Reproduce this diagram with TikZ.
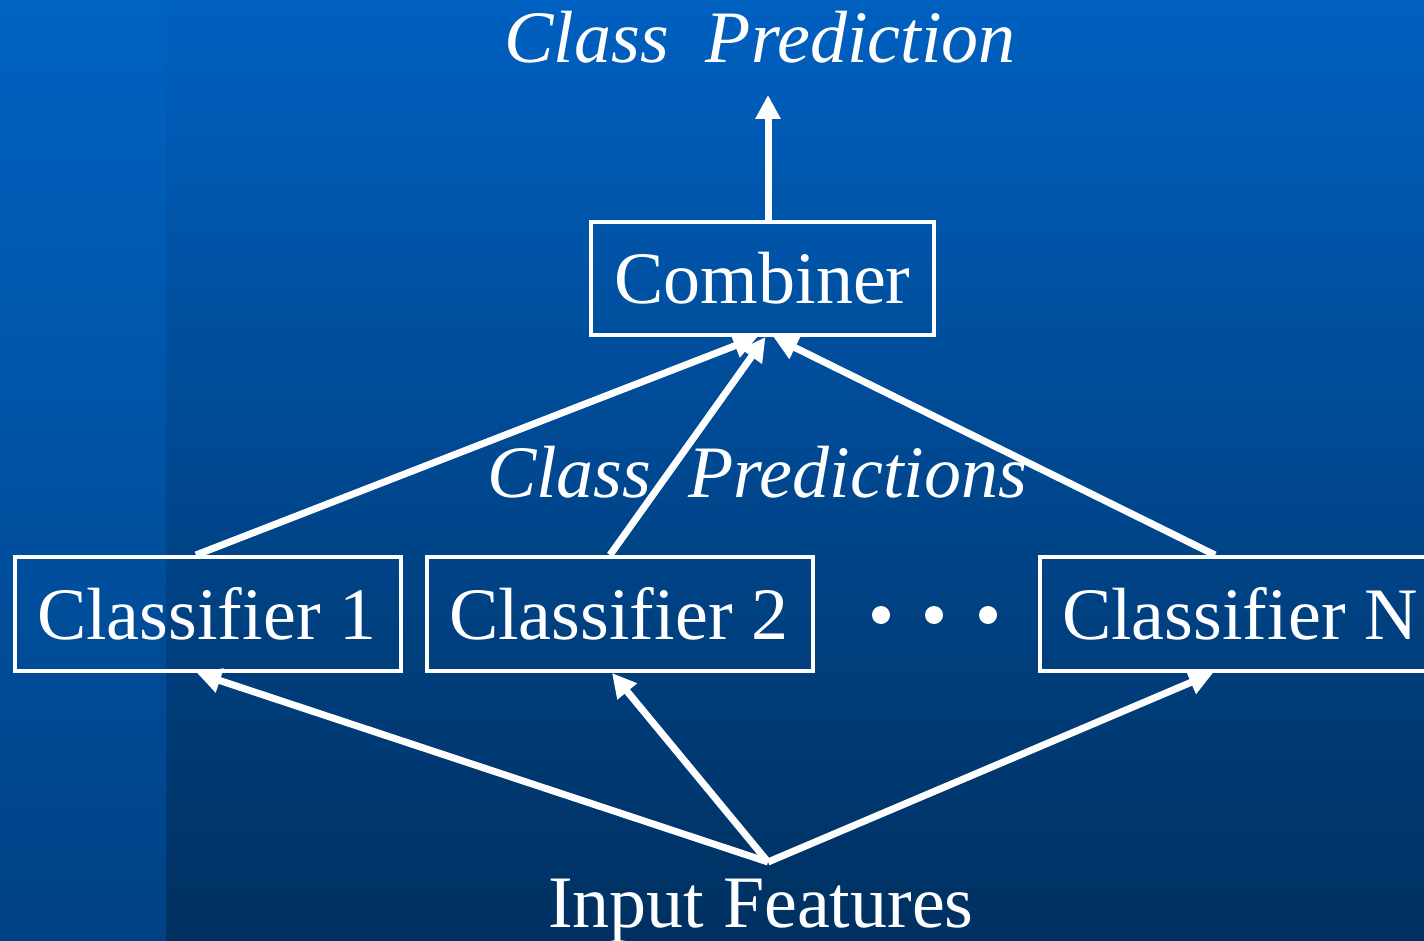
\documentclass[tikz,border=0pt]{standalone}
\usepackage{fontspec}
\setmainfont{Liberation Serif}
\usetikzlibrary{arrows.meta}
\definecolor{bgtop}{RGB}{0,96,192}
\definecolor{bgbot}{RGB}{0,48,96}
\definecolor{striptop}{RGB}{0,98,194}
\definecolor{stripbot}{RGB}{0,66,132}
\tikzset{
  box/.style={draw=white, line width=4pt, minimum width=386pt, minimum height=114pt,
    inner sep=0pt, text=white, font=\fontsize{74}{88}\selectfont},
  lbl/.style={text=white, inner sep=0pt, font=\fontsize{74}{88}\selectfont},
  ilbl/.style={lbl, font=\fontsize{74}{88}\selectfont\itshape},
  arr/.style={draw=white, line width=7pt, -{Triangle[length=24pt,width=24pt]}},
  dot/.style={circle, fill=white, minimum size=18pt, inner sep=0pt}
}
\newcommand{\lefttext}[1]{\makebox[342pt][l]{#1}}
\begin{document}
\begin{tikzpicture}[x=1pt,y=-1pt]
\useasboundingbox (0,0) rectangle (1424,941);
\shade[top color=bgtop, bottom color=bgbot] (0,0) rectangle (1424,941);
\shade[top color=striptop, bottom color=stripbot] (0,0) rectangle (166,941);

\node[ilbl, anchor=base] (title) at (760,63) {Class\ \ Prediction};
\node[ilbl, anchor=base] (mid) at (757,497) {Class\ \ Predictions};
\node[lbl, anchor=base] (inputs) at (761,927) {Input Features};

\node[box, minimum width=343pt, minimum height=113pt] (comb) at (762.5,278.5) {Combiner};
\node[box] (c1) at (208,614) {\lefttext{Classifier 1}};
\node[box] (c2) at (620,614) {\lefttext{Classifier 2}};
\node[box] (cN) at (1233,614) {\lefttext{Classifier N}};

\node[dot] (d1) at (881,615) {};
\node[dot] (d2) at (934,615) {};
\node[dot] (d3) at (988,615) {};

\coordinate (top) at (768,95);
\coordinate (inp) at (768,862);

\draw[arr] (comb.north -| top) -- (top);
\draw[arr] ([xshift=-12pt]c1.north) -- ([xshift=-5pt]comb.south);
\draw[arr] ([xshift=-10pt]c2.north) -- ([xshift=3pt]comb.south);
\draw[arr] ([xshift=-18pt]cN.north) -- ([xshift=11pt]comb.south);

\draw[arr] (inp) -- ([xshift=-11pt]c1.south);
\draw[arr] (inp) -- ([xshift=-8pt]c2.south);
\draw[arr] (inp) -- ([xshift=-20pt]cN.south);
\end{tikzpicture}
\end{document}
